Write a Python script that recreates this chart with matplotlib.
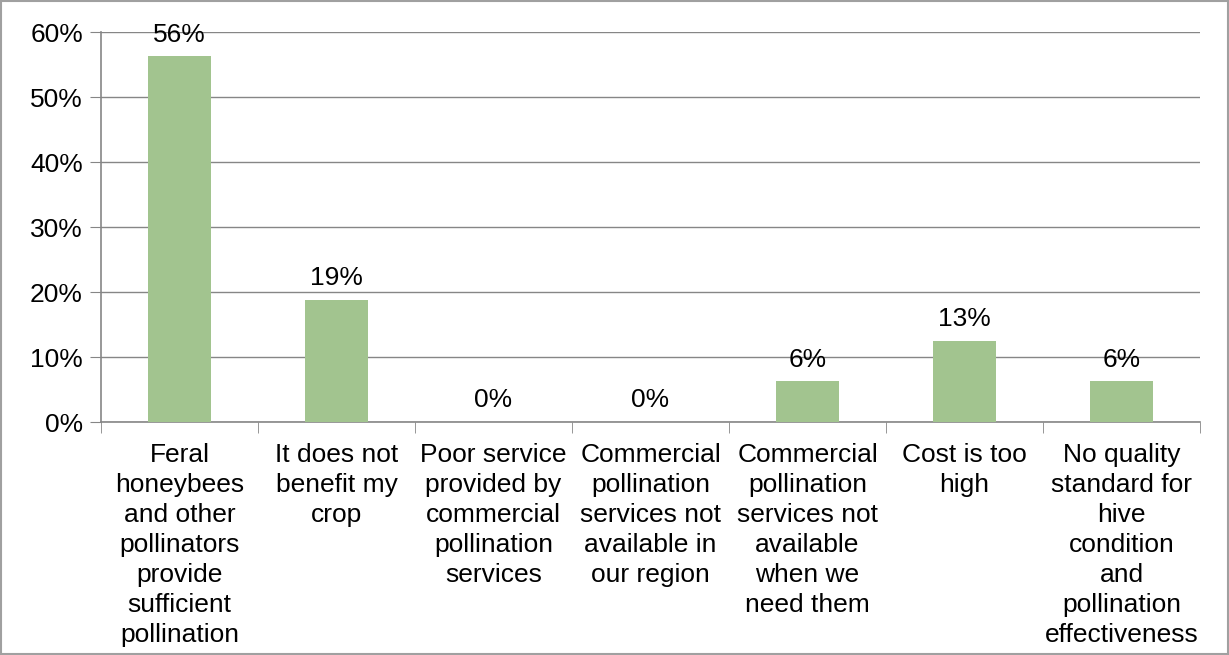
import matplotlib.pyplot as plt
import numpy as np
from matplotlib.ticker import PercentFormatter, FixedLocator
from matplotlib.patches import Rectangle

plt.rcParams['font.family'] = ['Liberation Sans', 'DejaVu Sans']

categories = [
    "Feral\nhoneybees\nand other\npollinators\nprovide\nsufficient\npollination",
    "It does not\nbenefit my\ncrop",
    "Poor service\nprovided by\ncommercial\npollination\nservices",
    "Commercial\npollination\nservices not\navailable in\nour region",
    "Commercial\npollination\nservices not\navailable\nwhen we\nneed them",
    "Cost is too\nhigh",
    "No quality\nstandard for\nhive\ncondition\nand\npollination\neffectiveness",
]
values = [0.5625, 0.1875, 0.0, 0.0, 0.0625, 0.125, 0.0625]
labels = ["56%", "19%", "0%", "0%", "6%", "13%", "6%"]

grey = "#868686"
fs = 19
fig = plt.figure(figsize=(12.29, 6.55), dpi=100)
ax = fig.add_axes([0.0822, 0.3557, 0.8942, 0.5954])

x = np.arange(len(values))
ax.bar(x, values, width=0.4, color="#A2C48F", zorder=3)
for xi, v, lab in zip(x, values, labels):
    ax.text(xi, v + 0.015, lab, ha="center", va="bottom", fontsize=fs, zorder=4)

ax.set_xlim(-0.5, len(values) - 0.5)
ax.set_ylim(0, 0.6)
ax.set_yticks(np.arange(0, 0.61, 0.1))
ax.yaxis.set_major_formatter(PercentFormatter(1.0, decimals=0))
ax.grid(axis="y", color=grey, linewidth=1, zorder=0)

ax.set_xticks(x)
ax.set_xticklabels(categories, fontsize=fs, linespacing=1.32)
ax.xaxis.set_minor_locator(FixedLocator(np.arange(-0.5, len(values), 1)))
ax.tick_params(axis="x", which="major", length=0, pad=15)
ax.tick_params(axis="x", which="minor", length=8, color=grey, direction="out")
ax.tick_params(axis="y", length=8, color=grey, labelsize=fs, pad=5)

for s in ["top", "right"]:
    ax.spines[s].set_visible(False)
for s in ["left", "bottom"]:
    ax.spines[s].set_color(grey)
    ax.spines[s].set_linewidth(1.2)

fig.patches.append(Rectangle((0.001, 0.001), 0.998, 0.998, transform=fig.transFigure,
                             fill=False, edgecolor="#A0A0A0", linewidth=1.5))

fig.savefig("out.png", dpi=100)
